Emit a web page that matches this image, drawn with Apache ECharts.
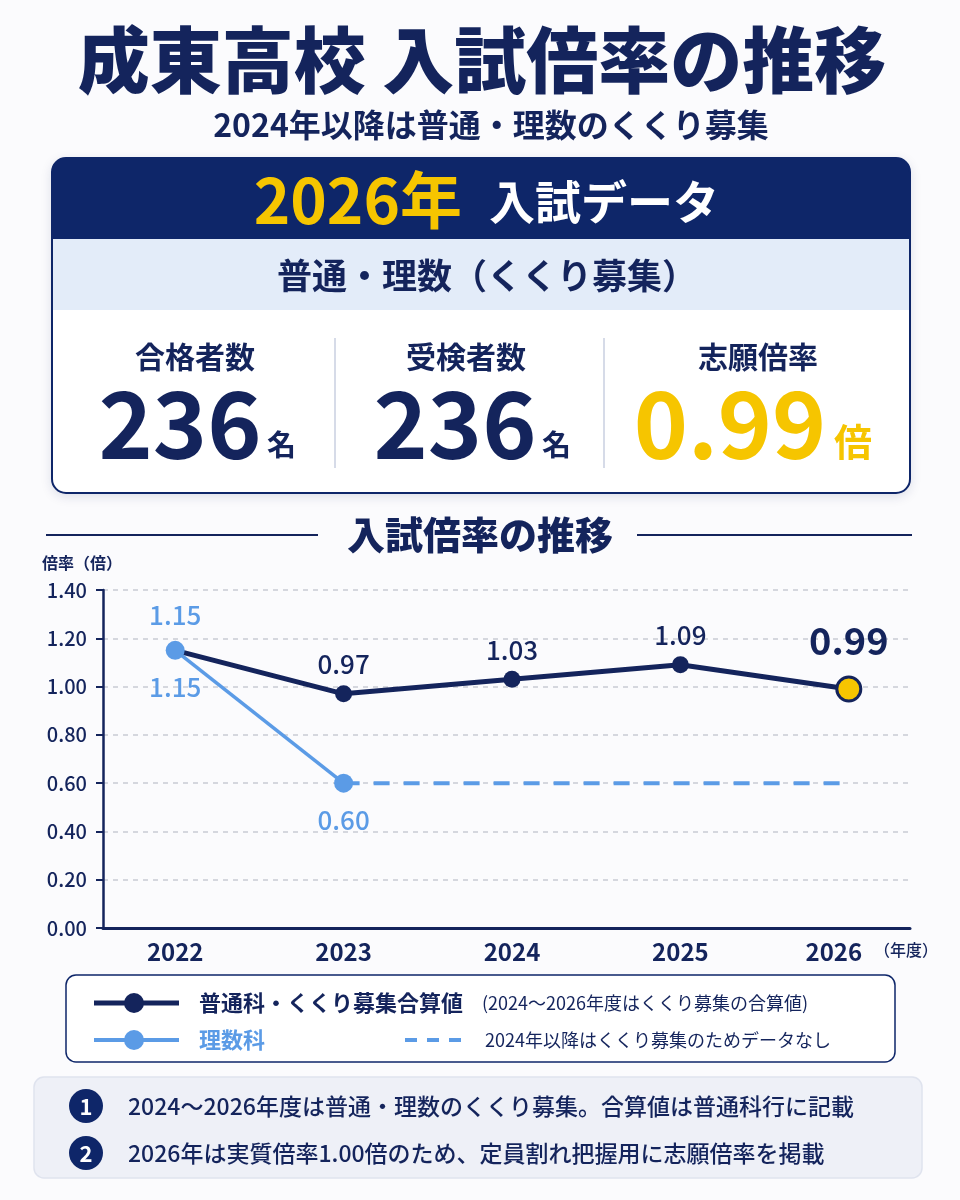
<!DOCTYPE html>
<html><head><meta charset="utf-8">
<script src="https://cdn.jsdelivr.net/npm/echarts@6/dist/echarts.min.js"></script>
<style>html,body{margin:0;padding:0;background:#fbfbfd}#c{width:960px;height:1200px}</style>
</head><body><div id="c"></div>
<script>
// ---- data ----
const years = ['2022', '2023', '2024', '2025', '2026'];
const combinedRates = [1.15, 0.97, 1.03, 1.09, 0.99];
const scienceRates = [1.15, 0.60, null, null, null];
const scienceNoData = [null, 0.60, 0.60, 0.60, 0.60];
const yMin = 0, yMax = 1.4, yStep = 0.2;
const cardLabels = ['合格者数', '受検者数', '志願倍率'];
const cardValues = ['236', '236', '0.99'];
const cardUnits = ['名', '名', '倍'];
const notes = [
  '2024〜2026年度は普通・理数のくくり募集。合算値は普通科行に記載',
  '2026年は実質倍率1.00倍のため、定員割れ把握用に志願倍率を掲載'
];

const NAVY = '#14245c', BLUE = '#5b9be6', YEL = '#f6c500', HEAD = '#0e2669';
const FF = '"Noto Sans CJK JP","Noto Sans",sans-serif';
function T(text, x, y, size, weight, color, align, valign) {
  return { type: 'text', z: 10, style: { text: text, x: x, y: y, fill: color,
    font: weight + ' ' + size + 'px ' + FF, align: align || 'center', verticalAlign: valign || 'middle',
    textAlign: align || 'center', textVerticalAlign: valign || 'middle' } };
}
function L(x1, y1, x2, y2, color, w, dash) {
  return { type: 'line', z: 10, shape: { x1: x1, y1: y1, x2: x2, y2: y2 },
    style: { stroke: color, lineWidth: w, lineDash: dash || null } };
}

const g = [];
// title
g.push(T('成東高校 入試倍率の推移', 482, 60, 72, 900, NAVY));
g.push(T('2024年以降は普通・理数のくくり募集', 491, 125, 32, 'bold', NAVY));
// card
g.push({ type: 'rect', z: 5, shape: { x: 52, y: 158, width: 858, height: 335, r: 14 },
  style: { fill: '#fff', shadowBlur: 12, shadowColor: 'rgba(20,36,92,0.15)', shadowOffsetY: 3 } });
g.push({ type: 'rect', z: 6, shape: { x: 52, y: 158, width: 858, height: 81, r: [14, 14, 0, 0] }, style: { fill: HEAD } });
g.push({ type: 'rect', z: 6, shape: { x: 53, y: 239, width: 856, height: 71 }, style: { fill: '#e3ecf9' } });
g.push({ type: 'rect', z: 7, shape: { x: 52, y: 158, width: 858, height: 335, r: 14 }, style: { fill: 'none', stroke: HEAD, lineWidth: 2 } });
g.push(T('2026年', 462, 200, 62, 'bold', YEL, 'right'));
g.push(T('入試データ', 489, 202, 46, 'bold', '#ffffff', 'left'));
g.push(T('普通・理数（くくり募集）', 487, 276, 35, 'bold', NAVY));
const colX = [195, 466, 758], numX = [180, 455, 730], unitX = [267, 542, 834];
cardLabels.forEach((s, i) => {
  g.push(T(s, colX[i], 357, 30, 'bold', NAVY));
  const c = i === 2 ? YEL : NAVY;
  g.push(T(cardValues[i], numX[i], 424, 92, 'bold', c));
  g.push(T(cardUnits[i], unitX[i], i === 2 ? 442 : 445, i === 2 ? 38 : 29, 'bold', c, 'left'));
});
g.push(L(335, 338, 335, 468, '#c9cfe0', 1.5));
g.push(L(604, 338, 604, 468, '#c9cfe0', 1.5));
// section title
g.push(T('入試倍率の推移', 480, 535, 38, 900, NAVY));
g.push(L(46, 535, 318, 535, NAVY, 2));
g.push(L(637, 535, 912, 535, NAVY, 2));
g.push(T('倍率（倍）', 42, 563, 16, 'bold', NAVY, 'left'));
g.push(T('（年度）', 874, 950, 16, 500, NAVY, 'left'));
// legend
g.push({ type: 'rect', z: 5, shape: { x: 66, y: 975, width: 829, height: 87, r: 10 }, style: { fill: '#fff', stroke: HEAD, lineWidth: 1.5 } });
g.push(L(94, 1003, 179, 1003, NAVY, 5));
g.push({ type: 'circle', z: 11, shape: { cx: 134, cy: 1003, r: 10 }, style: { fill: NAVY } });
g.push(T('普通科・くくり募集合算値', 199, 1003, 22, 'bold', NAVY, 'left'));
g.push(T('(2024〜2026年度はくくり募集の合算値)', 482, 1003, 18, 'normal', NAVY, 'left'));
g.push(L(94, 1040, 179, 1040, BLUE, 4));
g.push({ type: 'circle', z: 11, shape: { cx: 134, cy: 1040, r: 10 }, style: { fill: BLUE } });
g.push(T('理数科', 199, 1040, 22, 'bold', BLUE, 'left'));
g.push(L(405, 1040, 462, 1040, BLUE, 4, [12, 10]));
g.push(T('2024年以降はくくり募集のためデータなし', 485, 1040, 18, 'normal', NAVY, 'left'));
// notes
g.push({ type: 'rect', z: 5, shape: { x: 34, y: 1077, width: 888, height: 101, r: 10 }, style: { fill: '#eef0f7', stroke: '#dfe3ee', lineWidth: 1.5 } });
notes.forEach((s, i) => {
  const y = i === 0 ? 1106 : 1153;
  g.push({ type: 'circle', z: 10, shape: { cx: 86, cy: y, r: 17 }, style: { fill: HEAD } });
  g.push(T(String(i + 1), 86, y + 1, 22, 'bold', '#fff'));
  g.push(T(s, 128, y, 23, 500, NAVY, 'left'));
});

// series data
const mainData = combinedRates.map((v, i) => {
  const d = { value: v };
  if (i === 0) d.label = { color: BLUE, distance: 14, fontWeight: 500 };
  if (i === combinedRates.length - 1) {
    d.symbolSize = 24;
    d.itemStyle = { color: YEL, borderColor: NAVY, borderWidth: 3 };
    d.label = { fontSize: 38, fontWeight: 'bold', distance: 16 };
  }
  return d;
});
const xCats = years.map((y, i) => i === years.length - 1 ? { value: y, textStyle: { padding: [0, 30, 0, 0] } } : y);

const chart = echarts.init(document.getElementById('c'), null, { renderer: 'canvas' });
chart.setOption({
  animation: false,
  backgroundColor: '#fbfbfd',
  grid: [
    { left: 103, top: 590, width: 807, height: 338 },
    { left: 91, top: 590, width: 842, height: 338 }
  ],
  xAxis: [
    { type: 'category', gridIndex: 0, data: years, axisLabel: { show: false }, axisTick: { show: false },
      axisLine: { lineStyle: { color: NAVY, width: 3 } }, splitLine: { show: false } },
    { type: 'category', gridIndex: 1, data: xCats, axisTick: { show: false }, axisLine: { show: false },
      axisLabel: { color: NAVY, fontSize: 24, fontWeight: 'bold', fontFamily: FF, margin: 12 } }
  ],
  yAxis: [
    { type: 'value', gridIndex: 0, min: yMin, max: yMax, interval: yStep,
      axisLine: { show: true, lineStyle: { color: NAVY, width: 2.5 } },
      axisTick: { show: true, length: 7, lineStyle: { color: NAVY, width: 2 } },
      axisLabel: { color: NAVY, fontSize: 20, fontWeight: 500, fontFamily: FF, margin: 16, formatter: v => v.toFixed(2) },
      splitLine: { lineStyle: { color: '#c9ccd4', width: 1.5, type: [5, 5] } } },
    { type: 'value', gridIndex: 1, min: yMin, max: yMax, interval: yStep, show: false, splitLine: { show: false } }
  ],
  series: [
    { name: '理数科データなし', type: 'line', xAxisIndex: 1, yAxisIndex: 1, data: scienceNoData, symbol: 'none', z: 1,
      lineStyle: { color: BLUE, width: 4, type: [16, 14] }, silent: true },
    { name: '普通科・くくり募集合算値', type: 'line', xAxisIndex: 1, yAxisIndex: 1, data: mainData, z: 2,
      symbol: 'circle', symbolSize: 17, itemStyle: { color: NAVY }, lineStyle: { color: NAVY, width: 5 },
      label: { show: true, position: 'top', distance: 8, fontSize: 26, fontWeight: 500, color: NAVY, fontFamily: FF,
        formatter: p => p.value.toFixed(2) } },
    { name: '理数科', type: 'line', xAxisIndex: 1, yAxisIndex: 1, data: scienceRates, z: 3, connectNulls: false,
      symbol: 'circle', symbolSize: 19, itemStyle: { color: BLUE }, lineStyle: { color: BLUE, width: 3.5 },
      label: { show: true, position: 'bottom', distance: 14, fontSize: 26, fontWeight: 500, color: BLUE, fontFamily: FF,
        formatter: p => p.value.toFixed(2) } }
  ],
  graphic: { elements: g }
});
</script></body></html>
